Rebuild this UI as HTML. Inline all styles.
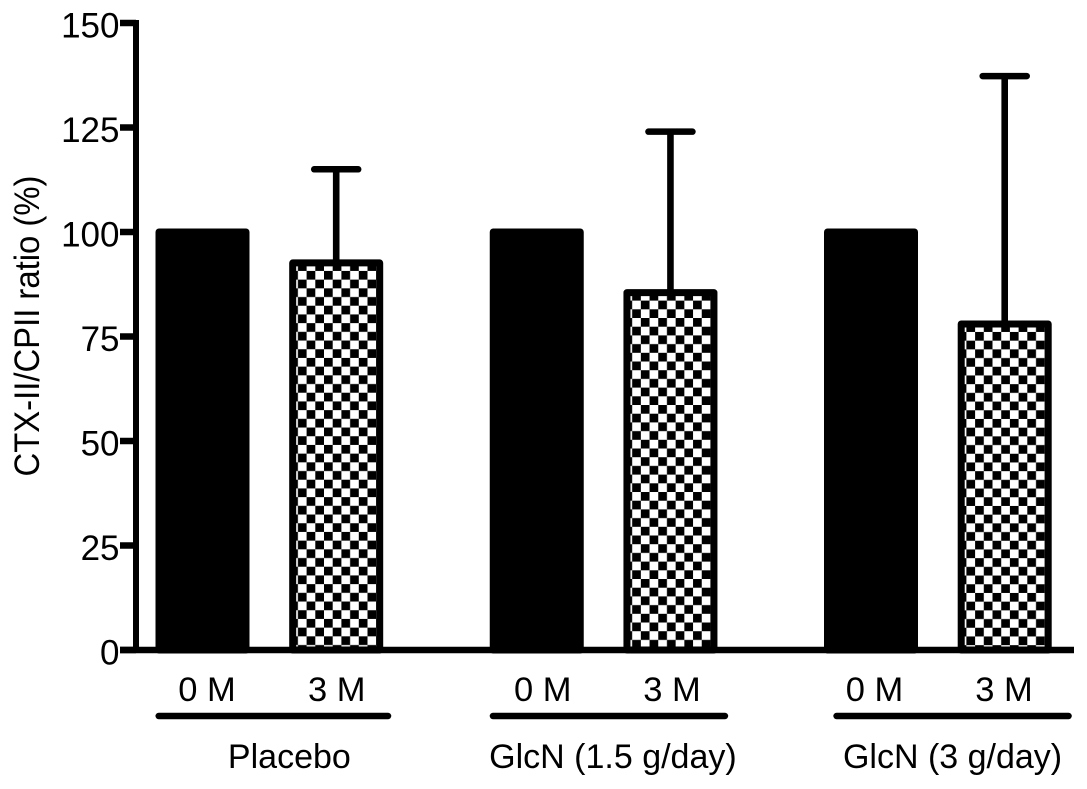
<!DOCTYPE html>
<html>
<head>
<meta charset="utf-8">
<title>CTX-II/CPII ratio</title>
<style>
html,body{margin:0;padding:0;background:#fff;}
svg{display:block;}
text{font-family:"Liberation Sans",sans-serif;fill:#000;}
</style>
</head>
<body>
<svg id="chart" xmlns="http://www.w3.org/2000/svg" width="1087" height="789" viewBox="0 0 1087 789">
<defs id="defs"></defs>
<g id="plot"></g>
</svg>
<script>
const yTicks = [0, 25, 50, 75, 100, 125, 150];
const barLabels = ['0 M', '3 M', '0 M', '3 M', '0 M', '3 M'];
const barSlots = [0, 1, 2.5, 3.5, 5, 6];
const barValues = [100, 92.6, 100, 85.5, 100, 78];
const errorTops = [100, 115, 100, 124, 100, 137.3];
const groupLabels = ['Placebo', 'GlcN (1.5 g/day)', 'GlcN (3 g/day)'];
const groupSlots = [[-0.35, 1.41], [2.15, 3.93], [4.72, 6.5]];
const yTitle = 'CTX-II/CPII ratio (%)';

const plot = document.getElementById('plot');
const defs = document.getElementById('defs');
const NS = 'http://www.w3.org/2000/svg';
const yScale = v => 650 - v * (627 / 150);
const xScale = s => 202.5 + s * 133.7;
const BAR_WIDTH = 94;
const CELL = 8.7;
const labelNudge = [4.5, 0.5, 6, 1.6, 3.5, -0.7];
const groupCenterNudge = [16, 4, 0];

function make(tag, attrs, text, parent) {
  const el = document.createElementNS(NS, tag);
  for (const k in attrs) el.setAttribute(k, attrs[k]);
  if (text !== undefined && text !== null) el.textContent = text;
  (parent || plot).appendChild(el);
  return el;
}

function checkerPattern(id, x, y) {
  const p = make('pattern', {id: id, patternUnits: 'userSpaceOnUse', x: x, y: y, width: CELL * 2, height: CELL * 2}, null, defs);
  make('rect', {width: CELL * 2, height: CELL * 2, fill: '#fff'}, null, p);
  make('rect', {width: CELL, height: CELL, fill: '#000'}, null, p);
  make('rect', {x: CELL, y: CELL, width: CELL, height: CELL, fill: '#000'}, null, p);
}

barValues.forEach((v, i) => {
  const cx = xScale(barSlots[i]);
  const top = yScale(v);
  const checkered = i % 2 === 1;
  if (errorTops[i] > v) {
    const stem = make('line', {x1: cx, x2: cx, y1: top, y2: yScale(errorTops[i]), stroke: '#000', 'stroke-width': 6.6});
    
    
    const cap = make('line', {x1: cx - 22, x2: cx + 22, y1: yScale(errorTops[i]), y2: yScale(errorTops[i]), stroke: '#000', 'stroke-width': 6.5, 'stroke-linecap': 'round'});
    
    
  }
  const left = cx - BAR_WIDTH / 2;
  let fill = '#000';
  if (checkered) {
    const id = 'checker' + i;
    checkerPattern(id, left + 17.4, top + 8);
    fill = 'url(#' + id + ')';
  }
  const bar = make('rect', {
    x: left + 3.5, y: top, width: BAR_WIDTH - 7, height: 650 - top,
    fill: fill, stroke: '#000', 'stroke-width': 7, 'stroke-linejoin': 'round'
  });
  
  
  const label = make('text', {x: cx + labelNudge[i], y: 701, 'font-size': 34.5, 'text-anchor': 'middle'}, barLabels[i]);
  
  
});

const yAxis = make('line', {x1: 136, x2: 136, y1: 20, y2: 653, stroke: '#000', 'stroke-width': 6});


const xAxis = make('line', {x1: 120, x2: 1074, y1: 650, y2: 650, stroke: '#000', 'stroke-width': 6.5});



yTicks.forEach(t => {
  const tick = make('line', {x1: 120, x2: 136, y1: yScale(t), y2: yScale(t), stroke: '#000', 'stroke-width': 6.5});
  
  
  const label = make('text', {x: 119.5, y: yScale(t) + 14.5, 'font-size': 35, 'text-anchor': 'end'}, String(t));
  
  
});

groupLabels.forEach((g, i) => {
  const x1 = xScale(groupSlots[i][0]);
  const x2 = xScale(groupSlots[i][1]);
  const line = make('line', {x1: x1 + 3, x2: x2 - 3, y1: 716, y2: 716, stroke: '#000', 'stroke-width': 6.5, 'stroke-linecap': 'round'});
  
  
  const label = make('text', {x: (x1 + x2) / 2 + groupCenterNudge[i], y: 768, 'font-size': 34, 'text-anchor': 'middle'}, g);
  
  
});

const title = make('text', {x: 0, y: 0, 'font-size': 35, 'text-anchor': 'middle', textLength: 301, lengthAdjust: 'spacingAndGlyphs', transform: 'translate(39 326) rotate(-90)'}, yTitle);


</script>
</body>
</html>
